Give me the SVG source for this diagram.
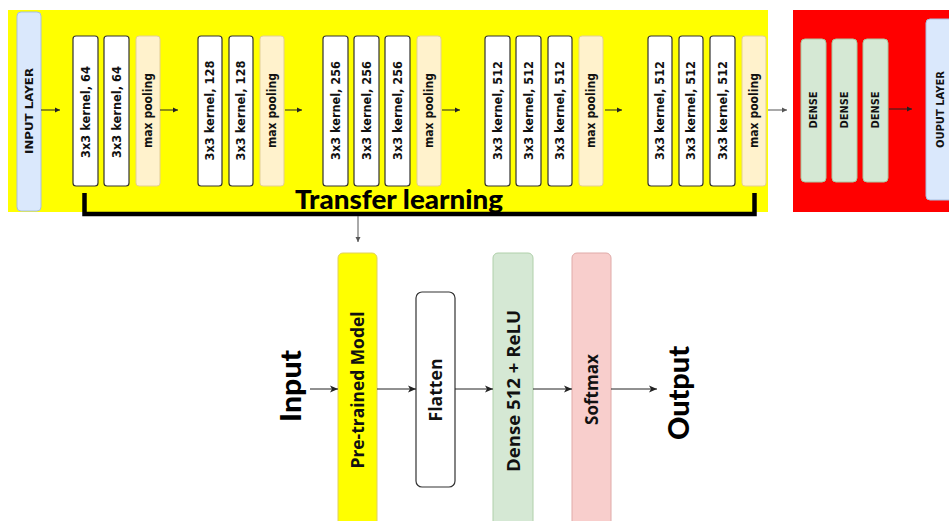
<svg xmlns="http://www.w3.org/2000/svg" width="949" height="521" viewBox="0 0 949 521">
<defs>
<marker id="ah" markerWidth="6" markerHeight="6" refX="5" refY="3" orient="auto" markerUnits="userSpaceOnUse">
<path d="M0,0.5 L5,3 L0,5.5 Z" fill="#222"/>
</marker>
<marker id="ahg" markerWidth="6" markerHeight="6" refX="5" refY="3" orient="auto" markerUnits="userSpaceOnUse">
<path d="M0,0.5 L5,3 L0,5.5 Z" fill="#555"/>
</marker>
<marker id="ahb" markerWidth="9" markerHeight="8" refX="8" refY="4" orient="auto" markerUnits="userSpaceOnUse">
<path d="M0,0.5 L8,4 L0,7.5 L2,4 Z" fill="#222"/>
</marker>
<style>
.k{fill:#ffffff;stroke:#333333;stroke-width:1.2}
.mp{fill:#fff2cc;stroke:#e3cf94;stroke-width:1}
.dn{fill:#d5e8d4;stroke:#a8c9a2;stroke-width:1}
.io{fill:#dae8fc;stroke:#a7bfe0;stroke-width:1}
.t{font-family:"DejaVu Sans",Verdana,sans-serif;font-weight:bold;font-size:12px;fill:#111}
.ts{font-family:"DejaVu Sans",Verdana,sans-serif;font-weight:bold;font-size:11px;fill:#111}
.b{font-family:"Open Sans","Noto Sans",sans-serif;font-weight:bold;font-size:17px;fill:#111}
.big{font-family:Lato,"Liberation Sans",sans-serif;font-weight:900;font-size:29px;fill:#000}
.c{stroke:#222;stroke-width:1;fill:none}
</style>
</defs>
<rect x="8" y="10" width="760" height="202" fill="#ffff00"/>
<rect x="793" y="10" width="160" height="202" fill="#ff0000"/>
<g id="input-layer"><rect class="io" x="17" y="12" width="24" height="199" rx="4"/><text class="ts" text-anchor="middle" dominant-baseline="central" transform="translate(29,111) rotate(-90)" textLength="86" lengthAdjust="spacingAndGlyphs">INPUT LAYER</text></g>
<g id="b1k1"><rect class="k" x="73" y="36" width="25" height="150" rx="3"/><text class="t" text-anchor="middle" dominant-baseline="central" transform="translate(85.5,112) rotate(-90)" textLength="92" lengthAdjust="spacingAndGlyphs">3x3 kernel, 64</text></g>
<g id="b1k2"><rect class="k" x="104" y="36" width="25" height="150" rx="3"/><text class="t" text-anchor="middle" dominant-baseline="central" transform="translate(116.5,112) rotate(-90)" textLength="92" lengthAdjust="spacingAndGlyphs">3x3 kernel, 64</text></g>
<g id="b1mp"><rect class="mp" x="136" y="36" width="24" height="150" rx="3"/><text class="t" text-anchor="middle" dominant-baseline="central" transform="translate(148,110.5) rotate(-90)" textLength="75" lengthAdjust="spacingAndGlyphs">max pooling</text></g>
<g id="b2k1"><rect class="k" x="198" y="36" width="24" height="150" rx="3"/><text class="t" text-anchor="middle" dominant-baseline="central" transform="translate(210,110.5) rotate(-90)" textLength="100" lengthAdjust="spacingAndGlyphs">3x3 kernel, 128</text></g>
<g id="b2k2"><rect class="k" x="229" y="36" width="24" height="150" rx="3"/><text class="t" text-anchor="middle" dominant-baseline="central" transform="translate(241,110.5) rotate(-90)" textLength="100" lengthAdjust="spacingAndGlyphs">3x3 kernel, 128</text></g>
<g id="b2mp"><rect class="mp" x="260" y="36" width="24" height="150" rx="3"/><text class="t" text-anchor="middle" dominant-baseline="central" transform="translate(272,110.5) rotate(-90)" textLength="75" lengthAdjust="spacingAndGlyphs">max pooling</text></g>
<g id="b3k1"><rect class="k" x="323" y="36" width="25" height="150" rx="3"/><text class="t" text-anchor="middle" dominant-baseline="central" transform="translate(335.5,110.5) rotate(-90)" textLength="99" lengthAdjust="spacingAndGlyphs">3x3 kernel, 256</text></g>
<g id="b3k2"><rect class="k" x="354" y="36" width="25" height="150" rx="3"/><text class="t" text-anchor="middle" dominant-baseline="central" transform="translate(366.5,110.5) rotate(-90)" textLength="99" lengthAdjust="spacingAndGlyphs">3x3 kernel, 256</text></g>
<g id="b3k3"><rect class="k" x="385" y="36" width="25" height="150" rx="3"/><text class="t" text-anchor="middle" dominant-baseline="central" transform="translate(397.5,110.5) rotate(-90)" textLength="99" lengthAdjust="spacingAndGlyphs">3x3 kernel, 256</text></g>
<g id="b3mp"><rect class="mp" x="417" y="36" width="24" height="150" rx="3"/><text class="t" text-anchor="middle" dominant-baseline="central" transform="translate(429,110.5) rotate(-90)" textLength="75" lengthAdjust="spacingAndGlyphs">max pooling</text></g>
<g id="b4k1"><rect class="k" x="485" y="36" width="25" height="150" rx="3"/><text class="t" text-anchor="middle" dominant-baseline="central" transform="translate(497.5,110.5) rotate(-90)" textLength="99" lengthAdjust="spacingAndGlyphs">3x3 kernel, 512</text></g>
<g id="b4k2"><rect class="k" x="516" y="36" width="25" height="150" rx="3"/><text class="t" text-anchor="middle" dominant-baseline="central" transform="translate(528.5,110.5) rotate(-90)" textLength="99" lengthAdjust="spacingAndGlyphs">3x3 kernel, 512</text></g>
<g id="b4k3"><rect class="k" x="548" y="36" width="24" height="150" rx="3"/><text class="t" text-anchor="middle" dominant-baseline="central" transform="translate(560,110.5) rotate(-90)" textLength="99" lengthAdjust="spacingAndGlyphs">3x3 kernel, 512</text></g>
<g id="b4mp"><rect class="mp" x="579" y="36" width="24" height="150" rx="3"/><text class="t" text-anchor="middle" dominant-baseline="central" transform="translate(591,110.5) rotate(-90)" textLength="75" lengthAdjust="spacingAndGlyphs">max pooling</text></g>
<g id="b5k1"><rect class="k" x="648" y="36" width="24" height="150" rx="3"/><text class="t" text-anchor="middle" dominant-baseline="central" transform="translate(660,110.5) rotate(-90)" textLength="99" lengthAdjust="spacingAndGlyphs">3x3 kernel, 512</text></g>
<g id="b5k2"><rect class="k" x="679" y="36" width="24" height="150" rx="3"/><text class="t" text-anchor="middle" dominant-baseline="central" transform="translate(691,110.5) rotate(-90)" textLength="99" lengthAdjust="spacingAndGlyphs">3x3 kernel, 512</text></g>
<g id="b5k3"><rect class="k" x="710" y="36" width="25" height="150" rx="3"/><text class="t" text-anchor="middle" dominant-baseline="central" transform="translate(722.5,110.5) rotate(-90)" textLength="99" lengthAdjust="spacingAndGlyphs">3x3 kernel, 512</text></g>
<g id="b5mp"><rect class="mp" x="742" y="36" width="24" height="150" rx="3"/><text class="t" text-anchor="middle" dominant-baseline="central" transform="translate(754,110.5) rotate(-90)" textLength="75" lengthAdjust="spacingAndGlyphs">max pooling</text></g>
<g id="dense1"><rect class="dn" x="801" y="39" width="25" height="143" rx="4"/><text class="ts" text-anchor="middle" dominant-baseline="central" transform="translate(813.5,110) rotate(-90)" textLength="37" lengthAdjust="spacingAndGlyphs">DENSE</text></g>
<g id="dense2"><rect class="dn" x="832" y="39" width="25" height="143" rx="4"/><text class="ts" text-anchor="middle" dominant-baseline="central" transform="translate(844.5,110) rotate(-90)" textLength="37" lengthAdjust="spacingAndGlyphs">DENSE</text></g>
<g id="dense3"><rect class="dn" x="863" y="39" width="25" height="143" rx="4"/><text class="ts" text-anchor="middle" dominant-baseline="central" transform="translate(875.5,110) rotate(-90)" textLength="37" lengthAdjust="spacingAndGlyphs">DENSE</text></g>
<g id="output-layer"><rect class="io" x="926" y="19" width="30" height="181" rx="4"/><text class="ts" text-anchor="middle" dominant-baseline="central" transform="translate(940,109.5) rotate(-90)" textLength="77" lengthAdjust="spacingAndGlyphs">OUPUT LAYER</text></g>
<g id="transfer-learning">
<path d="M84.5,193 V214 H754.5 V193" fill="none" stroke="#000" stroke-width="4.5"/>
<text x="399" y="209" text-anchor="middle" font-family="Lato,'Liberation Sans',sans-serif" font-weight="900" font-size="26.5" fill="#000" textLength="208" lengthAdjust="spacingAndGlyphs">Transfer learning</text>
</g>
<g id="pretrained"><rect x="338" y="253" width="39" height="280" rx="5" fill="#ffff00" stroke="#e0d060" stroke-width="1"/><text class="b" text-anchor="middle" dominant-baseline="central" transform="translate(357.5,390) rotate(-90)" textLength="157" lengthAdjust="spacingAndGlyphs">Pre-trained Model</text></g>
<g id="flatten"><rect x="416" y="292" width="39" height="195" rx="6" fill="#ffffff" stroke="#333" stroke-width="1.2"/><text class="b" text-anchor="middle" dominant-baseline="central" transform="translate(435.5,390) rotate(-90)" textLength="63" lengthAdjust="spacingAndGlyphs">Flatten</text></g>
<g id="dense512"><rect x="493" y="253" width="40" height="280" rx="5" fill="#d5e8d4" stroke="#b0d0aa" stroke-width="1"/><text class="b" text-anchor="middle" dominant-baseline="central" transform="translate(513,391) rotate(-90)" textLength="162" lengthAdjust="spacingAndGlyphs">Dense 512 + ReLU</text></g>
<g id="softmax"><rect x="572" y="253" width="39" height="280" rx="5" fill="#f8cecc" stroke="#e0aaa8" stroke-width="1"/><text class="b" text-anchor="middle" dominant-baseline="central" transform="translate(591.5,389.5) rotate(-90)" textLength="71" lengthAdjust="spacingAndGlyphs">Softmax</text></g>
<g id="input"><text class="big" text-anchor="middle" dominant-baseline="central" transform="translate(289,386) rotate(-90)" textLength="72" lengthAdjust="spacingAndGlyphs">Input</text></g>
<g id="output"><text class="big" text-anchor="middle" dominant-baseline="central" transform="translate(677,393) rotate(-90)" textLength="94" lengthAdjust="spacingAndGlyphs">Output</text></g>
<g id="connectors">
<line class="c" x1="41" y1="110" x2="60" y2="110" marker-end="url(#ah)"/>
<line class="c" x1="160" y1="110" x2="178" y2="110" marker-end="url(#ah)"/>
<line class="c" x1="285" y1="110" x2="302" y2="110" marker-end="url(#ah)"/>
<line class="c" x1="442" y1="110" x2="460" y2="110" marker-end="url(#ah)"/>
<line class="c" x1="605" y1="110" x2="622" y2="110" marker-end="url(#ah)"/>
<line x1="768" y1="110" x2="787" y2="110" stroke="#555" stroke-width="1" marker-end="url(#ahg)"/>
<line class="c" x1="889" y1="109" x2="912" y2="109" marker-end="url(#ah)"/>
<line x1="358" y1="216" x2="358" y2="242" stroke="#555" stroke-width="1" marker-end="url(#ahg)"/>
<line class="c" x1="310" y1="389" x2="338" y2="389" marker-end="url(#ahb)"/>
<line class="c" x1="377" y1="389" x2="416" y2="389" marker-end="url(#ahb)"/>
<line class="c" x1="455" y1="389" x2="493" y2="389" marker-end="url(#ahb)"/>
<line class="c" x1="533" y1="389" x2="572" y2="389" marker-end="url(#ahb)"/>
<line class="c" x1="611" y1="389" x2="657" y2="389" marker-end="url(#ahb)"/>
</g>
</svg>
